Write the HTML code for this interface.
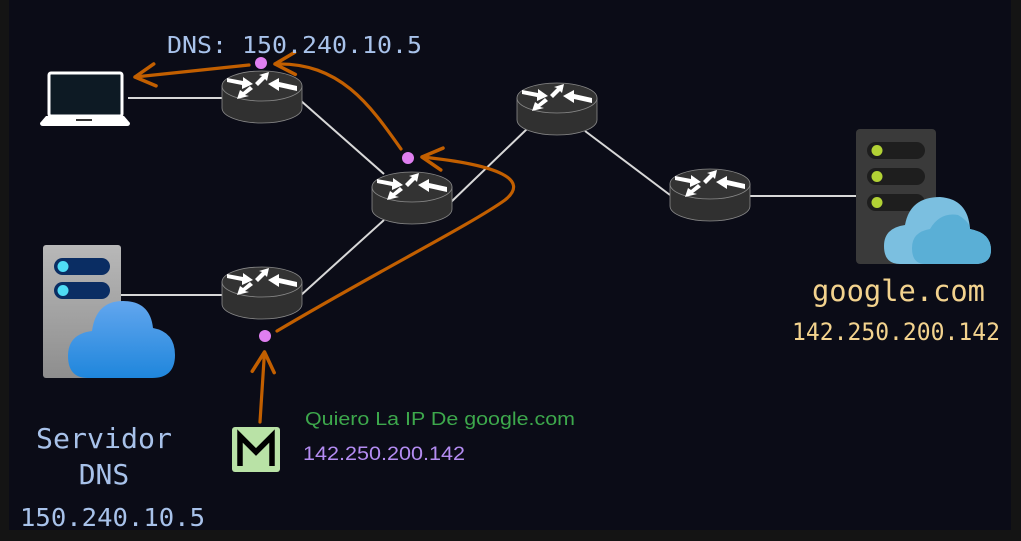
<!DOCTYPE html>
<html><head><meta charset="utf-8"><style>
html,body{margin:0;padding:0;background:#141414;}
svg{display:block}
.m{font-family:"DejaVu Sans Mono","Liberation Mono",monospace}
.h{font-family:"Liberation Sans",sans-serif}
</style></head><body>
<svg width="1021" height="541" viewBox="0 0 1021 541" xmlns="http://www.w3.org/2000/svg">
<defs>
<symbol id="rt" viewBox="0 0 82 56" overflow="visible">
 <path d="M1,16 L1,38 A40,15 0 0 0 81,38 L81,16 Z" fill="#303030" stroke="#8a8a8a" stroke-width="0.8"/>
 <ellipse cx="41" cy="16" rx="40" ry="15" fill="#333" stroke="#8a8a8a" stroke-width="0.8"/>
 <g fill="#fff">
  <polygon points="6,8 22,11 22,7 32,14 21,19 21,15 6,12"/>
  <polygon points="34,13 41,6 38,5 48,2 46,11 44,9 37,16"/>
  <polygon points="76,21 58,17 58,21 47,14 58,8 58,12 76,16"/>
  <polygon points="32,19 24,25 28,26 16,29 19,20 22,22 29,16"/>
 </g>
</symbol>
<marker id="ah" viewBox="0 0 30 30" refX="25" refY="15" markerWidth="30" markerHeight="30" markerUnits="userSpaceOnUse" orient="auto">
 <path d="M5,4 L25,15 L5,26" fill="none" stroke="#c25f00" stroke-width="3.5" stroke-linecap="round" stroke-linejoin="round"/>
</marker>
<linearGradient id="sg" x1="0" y1="0" x2="0" y2="1"><stop offset="0" stop-color="#b8b8b8"/><stop offset="1" stop-color="#8e8e8e"/></linearGradient>
<linearGradient id="cb" x1="0" y1="0" x2="0" y2="1"><stop offset="0" stop-color="#62a6ee"/><stop offset="1" stop-color="#1f86dc"/></linearGradient>
</defs>
<rect x="9" y="0" width="1002" height="530" fill="#0b0c17"/>

<g stroke="#d8d8d8" stroke-width="2" fill="none">
 <line x1="128" y1="98" x2="222" y2="98"/>
 <line x1="300" y1="100" x2="384" y2="174"/>
 <line x1="450" y1="203" x2="528" y2="128"/>
 <line x1="585" y1="131" x2="670" y2="195"/>
 <line x1="748" y1="196" x2="857" y2="196"/>
 <line x1="120" y1="295" x2="222" y2="295"/>
 <line x1="300" y1="296" x2="384" y2="220"/>
</g>

<use href="#rt" x="221" y="70" width="82" height="56"/>
<use href="#rt" x="371" y="171" width="82" height="56"/>
<use href="#rt" x="221" y="266" width="82" height="56"/>
<use href="#rt" x="516" y="82" width="82" height="56"/>
<use href="#rt" x="669" y="168" width="82" height="56"/>

<rect x="49" y="73" width="73" height="43" rx="2" fill="#0d1a24" stroke="#fff" stroke-width="3"/>
<path d="M46,116 L124,116 L130,123 Q130,126 127,126 L43,126 Q40,126 40,123 Z" fill="#fff"/>
<rect x="76" y="119" width="16" height="2" fill="#333"/>

<rect x="43" y="245" width="78" height="133" rx="3" fill="url(#sg)"/>
<rect x="54" y="258" width="56" height="17" rx="8.5" fill="#0a2d63"/>
<rect x="54" y="282" width="56" height="17" rx="8.5" fill="#0a2d63"/>
<circle cx="63" cy="266.5" r="5.5" fill="#4fdcf5"/>
<circle cx="63" cy="290.5" r="5.5" fill="#4fdcf5"/>
<path d="M88,378 Q68,378 68,356 Q68,334 92,331 Q96,301 123,301 Q150,301 153,328 Q175,332 175,355 Q175,378 152,378 Z" fill="url(#cb)"/>

<rect x="856" y="129" width="80" height="135" rx="4" fill="#3a3a3a"/>
<rect x="867" y="142" width="58" height="17" rx="8.5" fill="#1e1e1e"/>
<rect x="867" y="168" width="58" height="17" rx="8.5" fill="#1e1e1e"/>
<rect x="867" y="194" width="58" height="17" rx="8.5" fill="#1e1e1e"/>
<circle cx="877" cy="150.5" r="5.5" fill="#b2d235"/>
<circle cx="877" cy="176.5" r="5.5" fill="#b2d235"/>
<circle cx="877" cy="202.5" r="5.5" fill="#b2d235"/>
<path d="M900,264 Q884,264 884,246 Q884,228 905,225 Q910,197 940,197 Q968,199 970,229 Q991,233 991,250 Q991,264 975,264 Z" fill="#7bbfe0"/>
<path d="M925,264 Q912,264 912,248 Q912,232 930,229 Q940,212 958,215 Q970,222 970,229 Q991,233 991,250 Q991,264 975,264 Z" fill="#5aafd6"/>

<rect x="232" y="427" width="48" height="45" rx="3" fill="#b9e2a6"/>
<path d="M240,466 L240,436 L256,452 L272,436 L272,466" fill="none" stroke="#000" stroke-width="5.5"/>

<g fill="none" stroke="#c25f00" stroke-width="3.2" stroke-linecap="round">
 <line x1="260" y1="422" x2="264.5" y2="352" marker-end="url(#ah)"/>
 <path d="M277,331 C380,270 470,225 505,200 C530,180 500,165 422,157" marker-end="url(#ah)"/>
 <path d="M401,149 C370,105 340,62 275,64" marker-end="url(#ah)"/>
 <line x1="249" y1="65" x2="135" y2="77" marker-end="url(#ah)"/>
</g>

<g fill="#df7ff0">
 <circle cx="261" cy="63" r="6"/>
 <circle cx="408" cy="158" r="6"/>
 <circle cx="265" cy="336" r="6"/>
</g>

<text class="m" x="167" y="53" font-size="23" fill="#a8c2ea" textLength="255" lengthAdjust="spacingAndGlyphs">DNS: 150.240.10.5</text>
<text class="m" x="36" y="448" font-size="28" fill="#a8c2ea" textLength="136" lengthAdjust="spacingAndGlyphs">Servidor</text>
<text class="m" x="104" y="484" font-size="28" fill="#a8c2ea" text-anchor="middle">DNS</text>
<text class="m" x="20" y="526" font-size="25" fill="#a8c2ea" textLength="185" lengthAdjust="spacingAndGlyphs">150.240.10.5</text>
<text class="m" x="812" y="301" font-size="29" fill="#f3d38e" textLength="173" lengthAdjust="spacingAndGlyphs">google.com</text>
<text class="m" x="792" y="340" font-size="24" fill="#f3d38e" textLength="208" lengthAdjust="spacingAndGlyphs">142.250.200.142</text>
<text class="h" x="305" y="425" font-size="18" fill="#3da84c" textLength="270" lengthAdjust="spacingAndGlyphs">Quiero La IP De google.com</text>
<text class="h" x="303" y="460" font-size="19" fill="#b48cf2" textLength="162" lengthAdjust="spacingAndGlyphs">142.250.200.142</text>
</svg>
</body></html>
